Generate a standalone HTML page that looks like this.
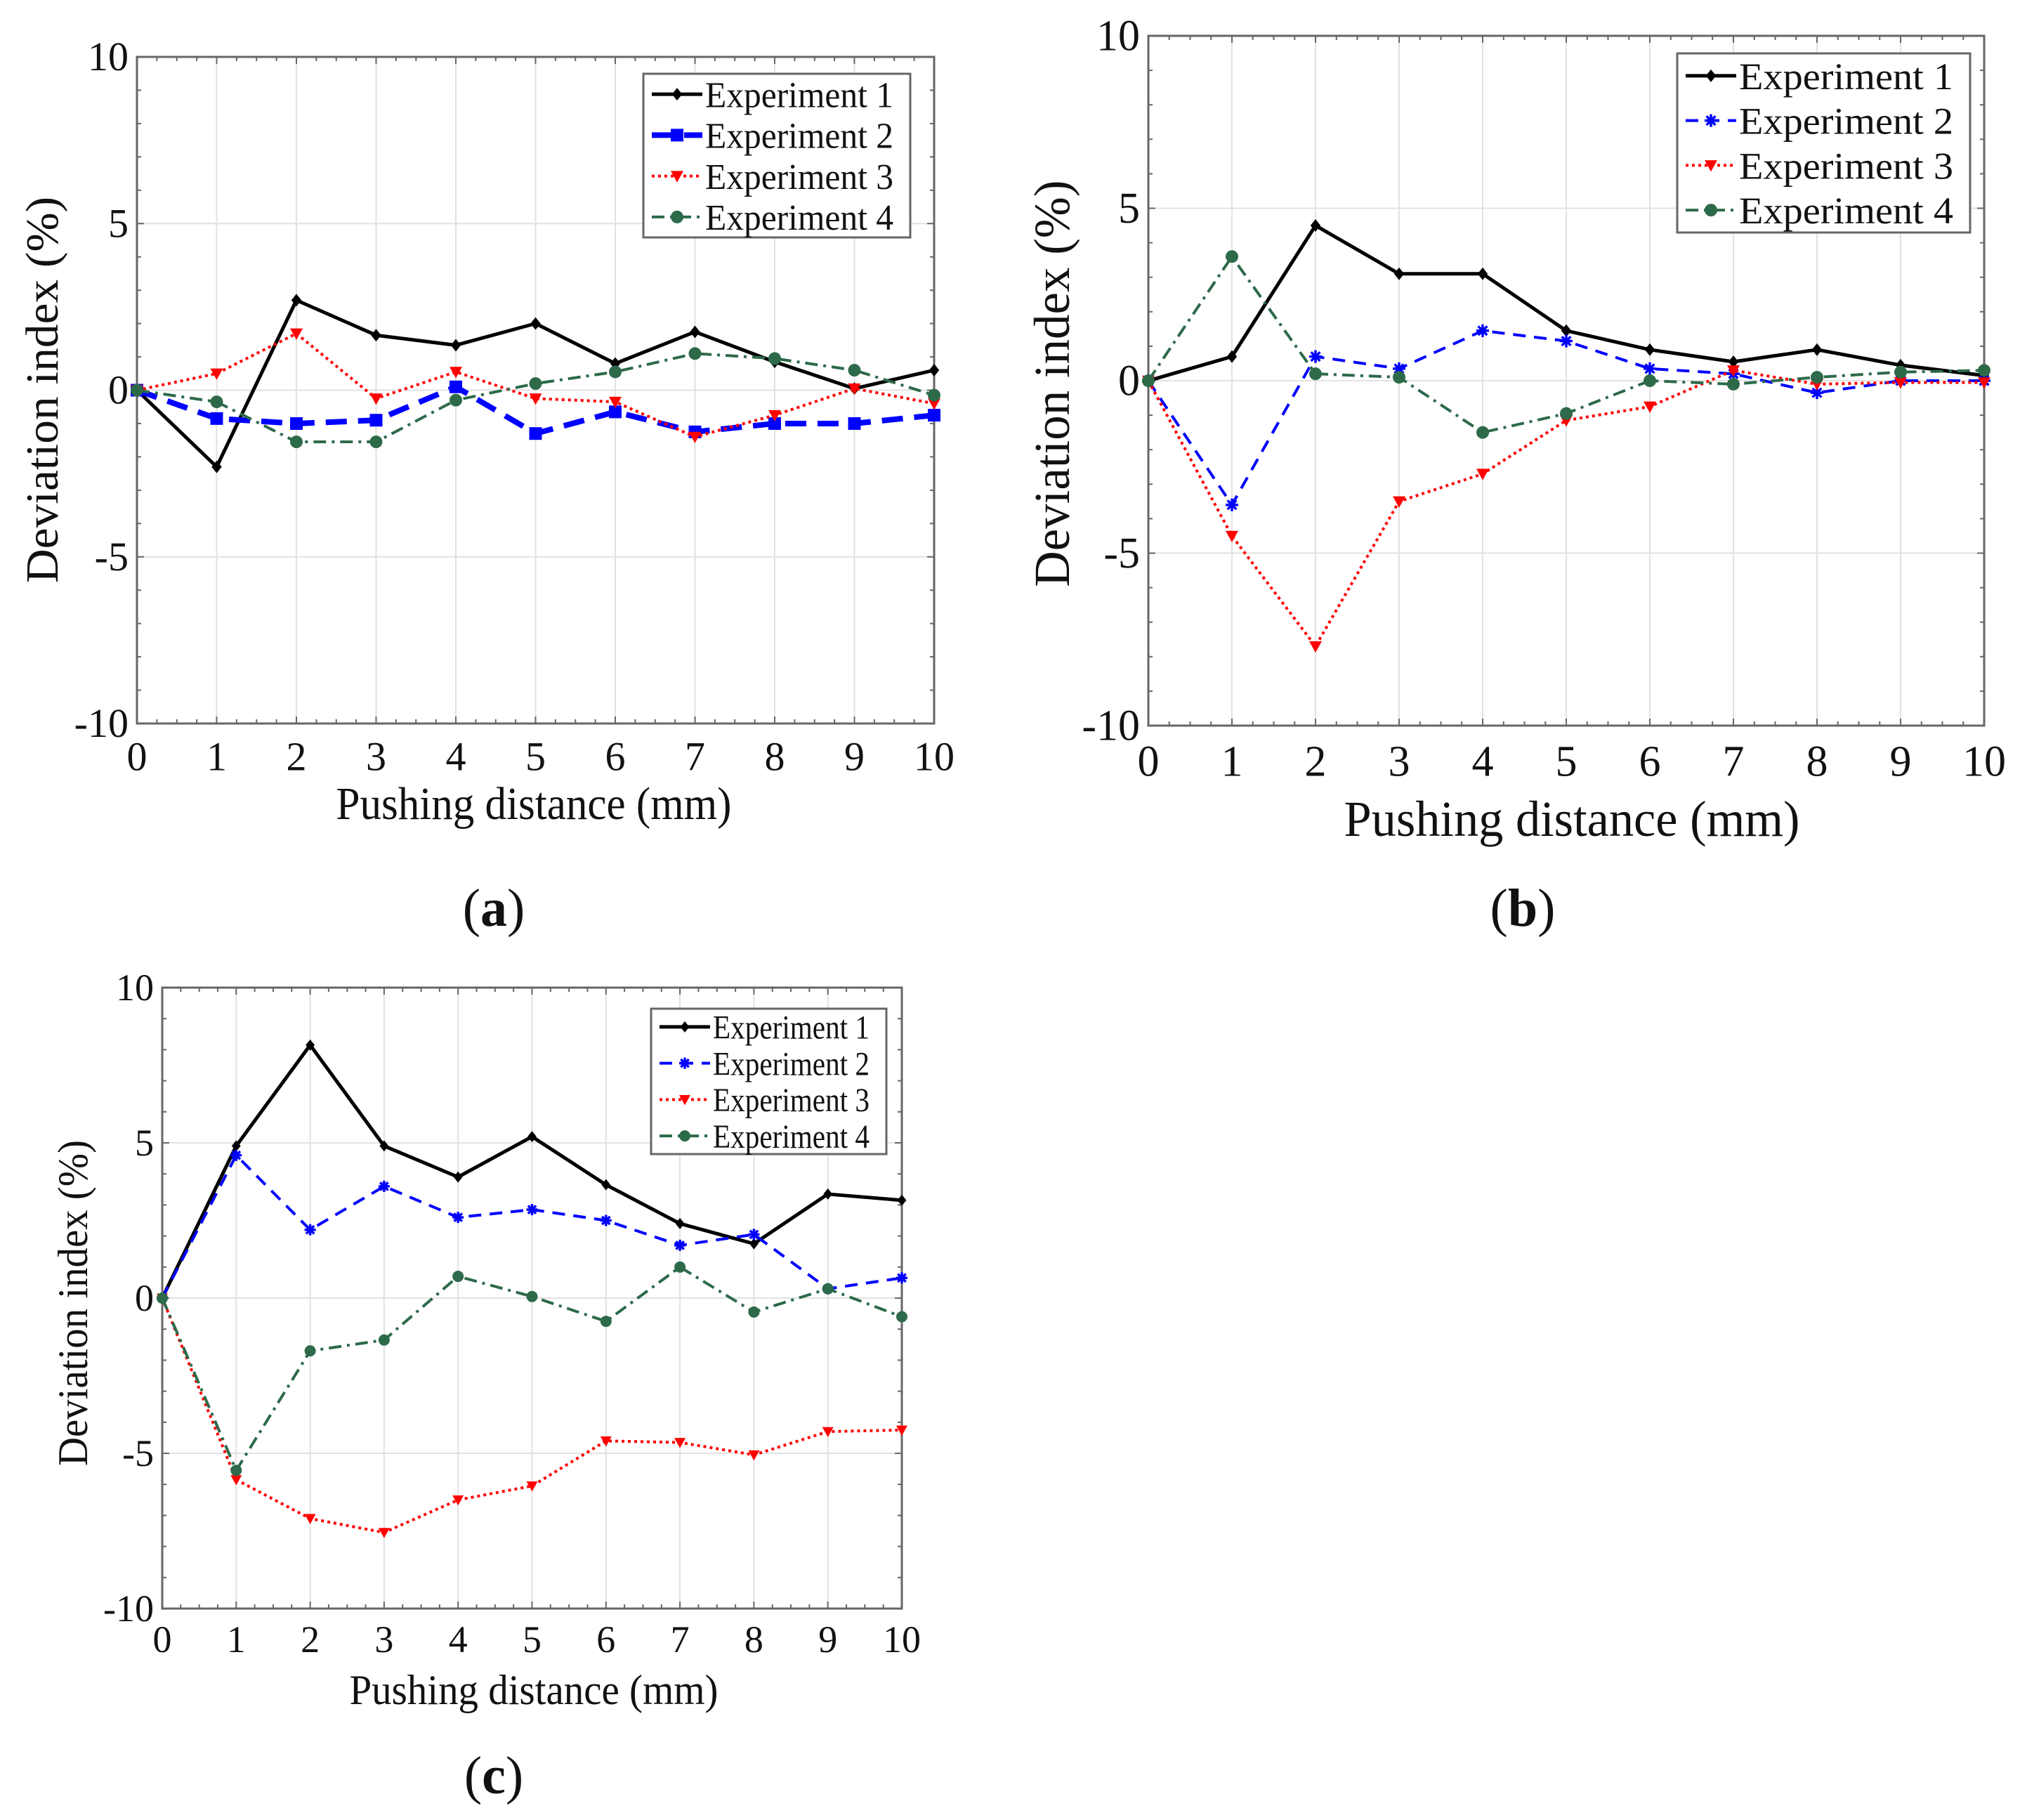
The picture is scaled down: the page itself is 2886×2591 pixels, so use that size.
<!DOCTYPE html>
<html><head><meta charset="utf-8"><style>
html,body{margin:0;padding:0;background:#fff}
svg{display:block}
svg text{font-family:"Liberation Serif","DejaVu Serif",serif;fill:#111}
</style></head><body>
<svg id="fig" width="2886" height="2591" viewBox="0 0 2886 2591" xmlns="http://www.w3.org/2000/svg" font-family="Liberation Serif, serif"></svg>
<script>
// ---- data ----
const xCats = [0,1,2,3,4,5,6,7,8,9,10];
const yTicks = [-10,-5,0,5,10];
const seriesNames = ["Experiment 1","Experiment 2","Experiment 3","Experiment 4"];
const a_e1 = [0,-2.3,2.7,1.65,1.35,2.0,0.8,1.75,0.85,0.05,0.6];
const a_e2 = [0,-0.85,-1.0,-0.9,0.1,-1.3,-0.65,-1.25,-1.0,-1.0,-0.75];
const a_e3 = [0,0.5,1.7,-0.25,0.55,-0.25,-0.35,-1.4,-0.75,0.05,-0.4];
const a_e4 = [0,-0.35,-1.55,-1.55,-0.3,0.2,0.55,1.1,0.95,0.6,-0.15];
const b_e1 = [0,0.7,4.5,3.1,3.1,1.45,0.9,0.55,0.9,0.45,0.15];
const b_e2 = [0,-3.6,0.7,0.35,1.45,1.15,0.35,0.2,-0.35,0,0];
const b_e3 = [0,-4.5,-7.7,-3.5,-2.7,-1.15,-0.75,0.3,-0.1,-0.05,-0.05];
const b_e4 = [0,3.6,0.2,0.1,-1.5,-0.95,0,-0.1,0.1,0.25,0.3];
const c_e1 = [0,4.9,8.15,4.9,3.9,5.2,3.65,2.4,1.75,3.35,3.15];
const c_e2 = [0,4.6,2.2,3.6,2.6,2.85,2.5,1.7,2.05,0.3,0.65];
const c_e3 = [0,-5.85,-7.1,-7.55,-6.5,-6.05,-4.6,-4.65,-5.05,-4.3,-4.25];
const c_e4 = [0,-5.55,-1.7,-1.35,0.7,0.05,-0.75,1.0,-0.45,0.3,-0.6];

const NS="http://www.w3.org/2000/svg";
const svg=document.getElementById('fig');
const FF='"Liberation Serif", serif';
function el(tag,attrs,parent){const e=document.createElementNS(NS,tag);for(const k in attrs)e.setAttribute(k,attrs[k]);(parent||svg).appendChild(e);return e;}
function txt(s,attrs,parent){attrs['font-family']=FF;const t=el('text',attrs,parent);t.textContent=s;return t;}

const GREEN="#2d6a4a";
function styles(sq){return [
 {c:"#000",w:5,d:"",m:"diamond"},
 {c:"#0000ff",w:sq?8:4,d:sq?"30,16":"18,12",m:sq?"square":"star"},
 {c:"#ff0000",w:4,d:"4,5",m:"tri"},
 {c:GREEN,w:4,d:"18,8,4,8",m:"circle"}];}

function marker(g,m,x,y,c,s){
  if(m==="diamond") el('polygon',{points:`${x},${y-s} ${x+s*0.8},${y} ${x},${y+s} ${x-s*0.8},${y}`,fill:c},g);
  else if(m==="square") el('rect',{x:x-s,y:y-s,width:2*s,height:2*s,fill:c},g);
  else if(m==="tri") el('polygon',{points:`${x-s},${y-s*0.8} ${x+s},${y-s*0.8} ${x},${y+s}`,fill:c},g);
  else if(m==="circle") el('circle',{cx:x,cy:y,r:s,fill:c},g);
  else if(m==="star"){for(let k=0;k<4;k++){const a=k*Math.PI/4;el('line',{x1:x-s*Math.cos(a),y1:y-s*Math.sin(a),x2:x+s*Math.cos(a),y2:y+s*Math.sin(a),stroke:c,'stroke-width':3.5},g);}}
}

function panel(cfg){
  const {id,L,R,T,B,data,sq,tickFs,titleFs,legFs,leg,xt,yt,cap,ms}=cfg;
  const g=el('g',{});
  
  
  const sx=v=>L+(v-0)/(10-0)*(R-L);
  const sy=v=>B-(v+10)/20*(B-T);
  xCats.forEach(v=>{const l=el('line',{x1:sx(v),x2:sx(v),y1:T,y2:B,stroke:"#e2e2e2",'stroke-width':2},g);});
  yTicks.forEach(v=>{const l=el('line',{x1:L,x2:R,y1:sy(v),y2:sy(v),stroke:"#e2e2e2",'stroke-width':2},g);});
  for(let v=0;v<=10;v+=0.25){const len=(Math.abs(v-Math.round(v))<1e-6)?10:6;
    el('line',{x1:sx(v),x2:sx(v),y1:B,y2:B-len,stroke:"#666",'stroke-width':2},g);
    el('line',{x1:sx(v),x2:sx(v),y1:T,y2:T+len,stroke:"#666",'stroke-width':2},g);}
  for(let v=-10;v<=10;v+=1){const len=(v%5===0)?10:6;
    el('line',{x1:L,x2:L+len,y1:sy(v),y2:sy(v),stroke:"#666",'stroke-width':2},g);
    el('line',{x1:R,x2:R-len,y1:sy(v),y2:sy(v),stroke:"#666",'stroke-width':2},g);}
  const frame=el('rect',{x:L,y:T,width:R-L,height:B-T,fill:"none",stroke:"#666",'stroke-width':3},g);
  
  
  xCats.forEach(v=>{const t=txt(String(v),{x:sx(v),y:B+tickFs*1.15,'font-size':tickFs,'text-anchor':'middle'},g);});
  yTicks.forEach(v=>{const t=txt(String(v),{x:L-12,y:sy(v)+tickFs*0.33,'font-size':tickFs,'text-anchor':'end'},g);});
  const xtl=txt("Pushing distance (mm)",{x:xt[0],y:xt[1],'font-size':titleFs,'text-anchor':'middle',textLength:cfg.xtLen,lengthAdjust:'spacingAndGlyphs'},g);
  
  
  const ytl=txt("Deviation index (%)",{x:0,y:0,'font-size':titleFs,'text-anchor':'middle',textLength:cfg.ytLen,lengthAdjust:'spacingAndGlyphs',transform:`translate(${yt[0]},${yt[1]}) rotate(-90)`},g);
  
  
  const st=styles(sq);
  data.forEach((arr,i)=>{
    const s=st[i];
    const sg=el('g',{},g);
    
    
    el('polyline',{points:arr.map((v,j)=>sx(xCats[j])+","+sy(v)).join(" "),fill:"none",stroke:s.c,'stroke-width':s.w,'stroke-dasharray':s.d,'stroke-linejoin':'round'},sg);
    arr.forEach((v,j)=>marker(sg,s.m,sx(xCats[j]),sy(v),s.c,ms));
  });
  const lg=el('g',{},g);
  
  
  el('rect',{x:leg[0],y:leg[1],width:leg[2]-leg[0],height:leg[3]-leg[1],fill:"#fff",stroke:"#666",'stroke-width':3},lg);
  const rowH=(leg[3]-leg[1])/4;
  seriesNames.forEach((n,i)=>{
    const s=st[i];const cy=leg[1]+rowH*(i+0.5);
    const eg=el('g',{},lg);
    
    
    el('line',{x1:leg[0]+12,x2:leg[0]+84,y1:cy,y2:cy,stroke:s.c,'stroke-width':s.w,'stroke-dasharray':s.d},eg);
    marker(eg,s.m,leg[0]+48,cy,s.c,ms);
    txt(n,{x:leg[0]+88,y:cy+legFs*0.35,'font-size':legFs,textLength:(leg[2]-leg[0])-88-24,lengthAdjust:'spacingAndGlyphs'},eg);
  });
  const cp=txt("",{x:cfg.capPos[0],y:cfg.capPos[1],'font-size':76,'text-anchor':'middle'},g);
  
  
  cp.innerHTML='(<tspan font-weight="bold">'+cap+'</tspan>)';
}

panel({id:'a',L:195,R:1330,T:81,B:1030,data:[a_e1,a_e2,a_e3,a_e4],sq:true,tickFs:58,titleFs:66,legFs:52,
  leg:[916,105,1296,338],xt:[760,1166],yt:[82,555],xtLen:563,ytLen:550,cap:'a',capPos:[703,1318],ms:9});
panel({id:'b',L:1635,R:2825,T:51,B:1033,data:[b_e1,b_e2,b_e3,b_e4],sq:false,tickFs:62,titleFs:72,legFs:54,
  leg:[2388,76,2805,331],xt:[2238,1190],yt:[1522,546],xtLen:649,ytLen:579,cap:'b',capPos:[2168,1318],ms:9});
panel({id:'c',L:231,R:1284,T:1406,B:2290,data:[c_e1,c_e2,c_e3,c_e4],sq:false,tickFs:54,titleFs:60,legFs:48,
  leg:[927,1436,1262,1643],xt:[760,2426],yt:[124,1855],xtLen:525,ytLen:464,cap:'c',capPos:[703,2553],ms:8});
</script>
</body></html>
